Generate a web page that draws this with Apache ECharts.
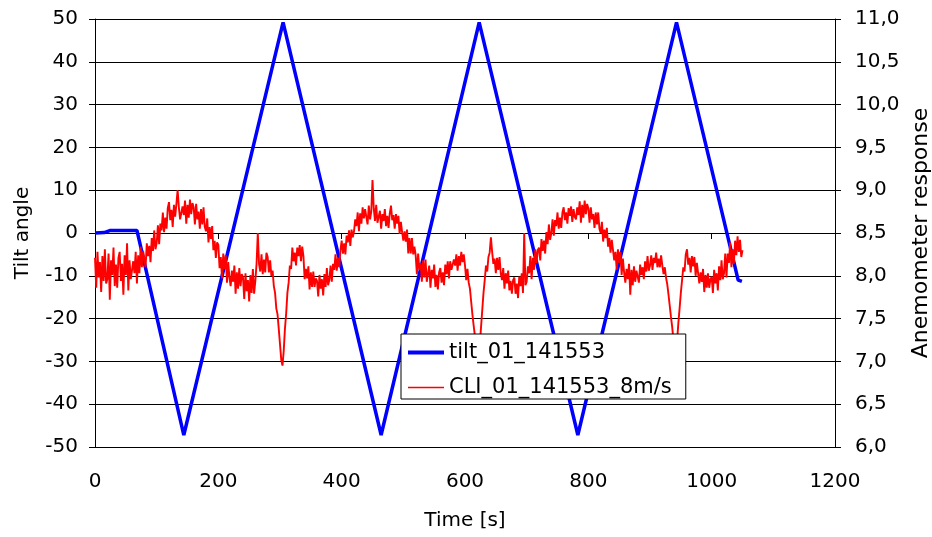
<!DOCTYPE html>
<html>
<head>
<meta charset="utf-8">
<script src="https://cdn.jsdelivr.net/npm/echarts@6/dist/echarts.min.js"></script>
<style>
html,body{margin:0;padding:0;background:#fff;}
#chart{width:932px;height:537px;}
</style>
</head>
<body>
<div id="chart"></div>
<script>
// ---- data ----
const xTickValues = [0, 200, 400, 600, 800, 1000, 1200];
const leftTicks = [-50, -40, -30, -20, -10, 0, 10, 20, 30, 40, 50];
const rightTicks = [6.0, 6.5, 7.0, 7.5, 8.0, 8.5, 9.0, 9.5, 10.0, 10.5, 11.0];

const seriesNames = ['tilt_01_141553', 'CLI_01_141553_8m/s'];

// tilt angle (left axis) - corner points of the triangular motion
const tiltTime  = [0, 15, 25, 68, 144, 305, 464, 623, 783, 943, 1043, 1049];
const tiltAngle = [0, 0.1, 0.6, 0.6, -47.2, 49.2, -47.2, 49.2, -47.2, 49.2, -11, -11.3];

// anemometer response (right axis), sampled every 2 s from t = 0 (one row = 20 s)
const cliStart = 0;
const cliStep = 2;
const cliValues = [
  8.21, 7.86, 8.28, 7.98, 8.16, 7.81, 8.23, 7.94, 8.31, 7.91,
  7.96, 8.26, 7.72, 8.18, 8.01, 8.33, 7.88, 8.13, 7.86, 8.21,
  8.28, 7.94, 8.14, 7.78, 8.24, 8.01, 8.38, 7.83, 8.18, 7.96,
  7.94, 8.17, 8.03, 8.28, 7.91, 8.24, 8.03, 8.34, 8.10, 8.29,
  8.29, 8.10, 8.38, 8.23, 8.35, 8.16, 8.44, 8.29, 8.53, 8.31,
  8.38, 8.59, 8.37, 8.61, 8.53, 8.74, 8.51, 8.68, 8.55, 8.79,
  8.86, 8.65, 8.77, 8.57, 8.83, 8.69, 8.84, 9.00, 8.80, 8.66,
  8.65, 8.81, 8.71, 8.88, 8.61, 8.83, 8.68, 8.89, 8.72, 8.85,
  8.80, 8.60, 8.84, 8.66, 8.75, 8.55, 8.78, 8.60, 8.80, 8.57,
  8.52, 8.67, 8.39, 8.57, 8.43, 8.58, 8.30, 8.41, 8.21, 8.39,
  8.36, 8.09, 8.22, 7.97, 8.26, 8.08, 8.24, 7.92, 8.16, 7.98,
  7.88, 8.06, 7.93, 8.12, 7.79, 8.04, 7.85, 8.09, 7.88, 8.02,
  7.98, 7.73, 8.03, 7.82, 7.95, 7.70, 8.01, 7.80, 8.08, 7.79,
  7.94, 8.14, 8.50, 8.14, 8.05, 8.25, 8.02, 8.19, 8.04, 8.27,
  8.22, 8.04, 8.18, 8.00, 8.06, 7.88, 7.80, 7.62, 7.55, 7.38,
  7.20, 7.02, 6.95, 7.12, 7.38, 7.56, 7.80, 7.92, 8.12, 8.08,
  8.33, 8.17, 8.27, 8.12, 8.33, 8.23, 8.36, 8.17, 8.34, 8.23,
  7.96, 8.08, 7.97, 8.11, 7.84, 8.04, 7.87, 8.05, 7.87, 7.97,
  7.94, 7.76, 8.01, 7.85, 7.96, 7.77, 8.02, 7.87, 8.09, 7.89,
  7.95, 8.12, 7.93, 8.14, 8.07, 8.25, 8.06, 8.21, 8.10, 8.30,
  8.41, 8.26, 8.38, 8.25, 8.47, 8.39, 8.53, 8.35, 8.54, 8.45,
  8.52, 8.66, 8.58, 8.74, 8.52, 8.73, 8.61, 8.80, 8.67, 8.78,
  8.78, 8.60, 8.82, 8.66, 8.75, 9.12, 8.79, 8.64, 8.83, 8.62,
  8.61, 8.76, 8.55, 8.72, 8.64, 8.78, 8.58, 8.70, 8.56, 8.73,
  8.82, 8.65, 8.71, 8.55, 8.72, 8.61, 8.70, 8.49, 8.63, 8.51,
  8.41, 8.52, 8.40, 8.54, 8.26, 8.44, 8.26, 8.44, 8.25, 8.34,
  8.24, 8.02, 8.26, 8.07, 8.15, 7.93, 8.18, 7.98, 8.19, 7.93,
  7.94, 8.12, 7.86, 8.07, 7.97, 8.13, 7.87, 8.01, 7.84, 8.04,
  8.09, 7.92, 8.04, 7.89, 8.13, 8.02, 8.17, 7.97, 8.17, 8.07,
  8.08, 8.19, 8.12, 8.25, 8.06, 8.23, 8.12, 8.28, 8.16, 8.25,
  8.12, 7.95, 8.08, 7.92, 7.85, 7.70, 7.55, 7.42, 7.30, 7.15,
  7.02, 7.00, 7.20, 7.40, 7.60, 7.80, 7.95, 8.12, 8.05, 8.22,
  8.27, 8.45, 8.28, 8.14, 8.20, 8.03, 8.21, 8.07, 8.22, 8.03,
  7.95, 8.09, 7.85, 8.03, 7.91, 8.06, 7.83, 7.94, 7.79, 7.95,
  7.98, 7.79, 7.91, 7.74, 7.99, 7.88, 8.03, 7.80, 8.50, 7.89,
  7.93, 8.11, 8.03, 8.23, 7.96, 8.21, 8.07, 8.31, 8.15, 8.30,
  8.33, 8.18, 8.43, 8.29, 8.41, 8.26, 8.51, 8.37, 8.60, 8.42,
  8.50, 8.66, 8.47, 8.65, 8.58, 8.74, 8.55, 8.68, 8.56, 8.74,
  8.80, 8.65, 8.74, 8.61, 8.79, 8.70, 8.81, 8.63, 8.78, 8.69,
  8.66, 8.80, 8.71, 8.87, 8.62, 8.83, 8.68, 8.88, 8.72, 8.84,
  8.79, 8.62, 8.80, 8.66, 8.72, 8.56, 8.74, 8.60, 8.74, 8.55,
  8.50, 8.63, 8.40, 8.54, 8.44, 8.56, 8.34, 8.44, 8.27, 8.42,
  8.42, 8.18, 8.28, 8.07, 8.31, 8.15, 8.28, 8.01, 8.20, 8.04,
  7.92, 8.08, 7.96, 8.14, 7.78, 8.07, 7.89, 8.11, 7.93, 8.06,
  8.07, 7.92, 8.13, 8.01, 8.10, 7.96, 8.17, 8.05, 8.23, 8.06,
  8.12, 8.24, 8.07, 8.21, 8.15, 8.27, 8.10, 8.20, 8.10, 8.24,
  8.12, 8.02, 8.10, 7.98, 7.90, 7.78, 7.65, 7.52, 7.40, 7.25,
  7.12, 7.05, 7.25, 7.45, 7.62, 7.80, 7.95, 8.10, 8.05, 8.25,
  8.31, 8.13, 8.21, 8.04, 8.23, 8.11, 8.22, 8.00, 8.15, 8.03,
  7.91, 8.04, 7.93, 8.08, 7.81, 8.01, 7.86, 8.03, 7.86, 7.96,
  7.99, 7.80, 8.07, 7.91, 8.03, 7.83, 8.11, 7.95, 8.18, 7.96,
  8.03, 8.26, 7.98, 8.26, 8.15, 8.39, 8.10, 8.31, 8.14, 8.41,
  8.24, 8.46, 8.28, 8.42, 8.22, 8.30
];

// ---- build series data from the arrays ----
const tiltData = tiltTime.map((t, i) => [t, tiltAngle[i]]);
const cliData = cliValues.map((v, i) => [cliStart + i * cliStep, v]);

const FONT = 'DejaVu Sans';
const labelStyle = { color: '#000', fontFamily: FONT, fontSize: 20 };

const chart = echarts.init(document.getElementById('chart'), null, { renderer: 'canvas' });
chart.setOption({
  backgroundColor: '#fff',
  animation: false,
  textStyle: { fontFamily: FONT },
  grid: { left: 95, right: 97, top: 19, bottom: 90, containLabel: false, outerBoundsMode: 'none' },
  legend: {
    orient: 'vertical',
    left: 401,
    top: 334,
    padding: [8, 14, 1, 5],
    itemGap: 14,
    itemWidth: 36,
    itemHeight: 14,
    backgroundColor: '#fff',
    borderColor: '#000',
    borderWidth: 1,
    borderRadius: 0,
    itemStyle: { opacity: 0 },
    textStyle: { color: '#000', fontFamily: FONT, fontSize: 21 },
    data: [
      { name: seriesNames[0], lineStyle: { width: 4 } },
      { name: seriesNames[1], lineStyle: { width: 1.5 } }
    ]
  },
  xAxis: {
    type: 'value',
    min: xTickValues[0],
    max: xTickValues[xTickValues.length - 1],
    interval: xTickValues[1] - xTickValues[0],
    name: 'Time [s]',
    nameLocation: 'middle',
    nameGap: 64,
    nameTextStyle: labelStyle,
    axisLine: { show: true, lineStyle: { color: '#000', width: 1 } },
    axisTick: { show: true, inside: false, length: 6, lineStyle: { color: '#000' } },
    axisLabel: Object.assign({ margin: 25, formatter: v => String(v) }, labelStyle),
    splitLine: { show: false }
  },
  yAxis: [
    {
      type: 'value',
      position: 'left',
      min: leftTicks[0],
      max: leftTicks[leftTicks.length - 1],
      interval: leftTicks[1] - leftTicks[0],
      name: 'Tilt angle',
      nameLocation: 'middle',
      nameGap: 62,
      nameTextStyle: labelStyle,
      axisLine: { show: true, onZero: false, lineStyle: { color: '#000', width: 1 } },
      axisTick: { show: true, inside: false, length: 6, lineStyle: { color: '#000' } },
      axisLabel: Object.assign({ margin: 17 }, labelStyle),
      splitLine: { show: true, lineStyle: { color: '#000', width: 1 } }
    },
    {
      type: 'value',
      position: 'right',
      min: rightTicks[0],
      max: rightTicks[rightTicks.length - 1],
      interval: rightTicks[1] - rightTicks[0],
      name: 'Anemometer response',
      nameLocation: 'middle',
      nameGap: 70,
      nameTextStyle: { color: '#000', fontFamily: FONT, fontSize: 22 },
      axisLine: { show: true, onZero: false, lineStyle: { color: '#000', width: 1 } },
      axisTick: { show: true, inside: false, length: 6, lineStyle: { color: '#000' } },
      axisLabel: Object.assign({
        margin: 20,
        formatter: v => v.toFixed(1).replace('.', ',')
      }, labelStyle),
      splitLine: { show: false }
    }
  ],
  series: [
    {
      name: seriesNames[0],
      type: 'line',
      yAxisIndex: 0,
      data: tiltData,
      symbol: 'none',
      lineStyle: { color: '#0000ff', width: 3.5 },
      itemStyle: { color: '#0000ff' },
      z: 2
    },
    {
      name: seriesNames[1],
      type: 'line',
      yAxisIndex: 1,
      data: cliData,
      symbol: 'none',
      sampling: false,
      lineStyle: { color: '#ff0000', width: 1.9 },
      itemStyle: { color: '#ff0000' },
      z: 3
    }
  ]
});
</script>
</body>
</html>
